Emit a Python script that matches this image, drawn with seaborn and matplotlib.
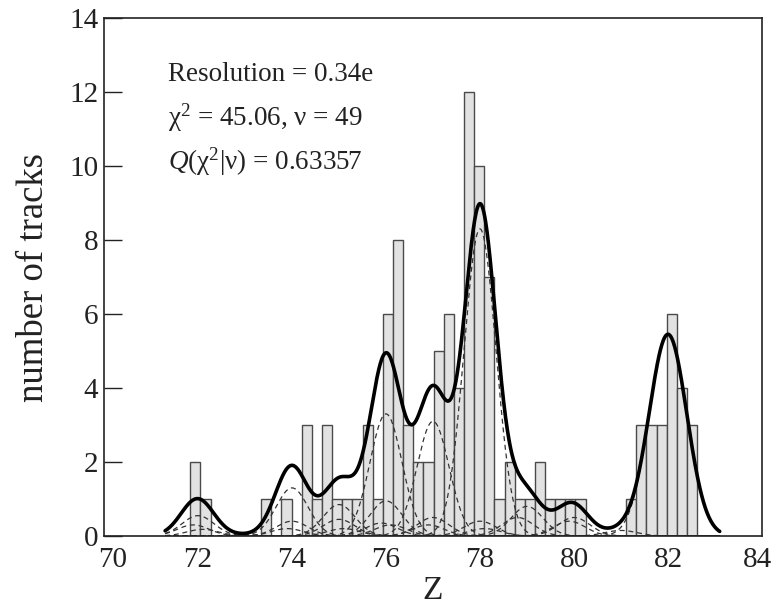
import numpy as np
import pandas as pd
import matplotlib
matplotlib.use("Agg")
import matplotlib.pyplot as plt
import matplotlib.transforms as mtransforms
import seaborn as sns

# ---- histogram data (50 bins) ----
bin_start = 71.835
bin_width = 0.2157
counts = [2, 1, 0, 0, 0, 0, 0, 1, 0, 1,
          0, 3, 1, 3, 1, 1, 1, 3, 1, 6,
          8, 3, 2, 2, 5, 6, 4, 12, 10, 7,
          1, 2, 1, 1, 2, 1, 1, 1, 1, 0,
          0, 0, 0, 1, 3, 3, 3, 6, 4, 3]

# ---- fitted Gaussian components (centre, peak height, sigma) ----
comp_center = [72.0, 71.9, 72.1, 73.0, 74.0, 74.0, 73.9, 75.0, 75.0, 75.1,
               76.0, 76.0, 75.9, 76.1, 77.0, 77.0, 76.9, 78.0, 78.0, 78.1,
               79.0, 78.8, 80.0, 79.9, 81.0, 82.0]
comp_height = [0.55, 0.30, 0.18, 0.03, 1.30, 0.40, 0.20, 0.85, 0.45, 0.20,
               3.30, 0.95, 0.35, 0.30, 3.10, 0.50, 0.30, 8.30, 0.40, 0.20,
               0.80, 0.50, 0.50, 0.40, 0.15, 5.45]
comp_sigma = [0.34] * 25 + [0.40]
curve_range = (71.3, 83.1)

annot = ["Resolution = 0.34e",
         "\u03c7$^{2}$ = 45.06, \u03bd = 49",
         "$Q$(\u03c7$^{2}$|\u03bd) = 0.63357"]

sns.set_theme(style="white")
plt.rcParams["font.family"] = ["Liberation Serif", "DejaVu Serif"]
plt.rcParams["mathtext.fontset"] = "custom"
plt.rcParams["mathtext.rm"] = "Liberation Serif"
plt.rcParams["mathtext.it"] = "Liberation Serif:italic"

fig = plt.figure(figsize=(7.77, 6.09), dpi=100)
ax = fig.add_axes([104 / 777, 1 - 536 / 609, 658 / 777, 518 / 609])

n = len(counts)
edges = [bin_start + bin_width * i for i in range(n + 1)]
centers = [(edges[i] + edges[i + 1]) / 2 for i in range(n)]
hist_df = pd.DataFrame({"Z": centers, "w": counts})
sns.histplot(data=hist_df, x="Z", weights="w", bins=edges, ax=ax,
             color="#e2e2e2", edgecolor="#4a4a4a", linewidth=1.0, alpha=1.0)

x = np.linspace(curve_range[0], curve_range[1], 1200)
total = np.zeros_like(x)
for c, h, s in zip(comp_center, comp_height, comp_sigma):
    g = h * np.exp(-0.5 * ((x - c) / s) ** 2)
    total += g
    ax.plot(x, g, color="#333333", lw=0.9, ls=(0, (4, 3)))
sns.lineplot(x=x, y=total, ax=ax, color="black", lw=2.6, estimator=None)

ax.set_xlim(70, 84)
ax.set_ylim(0, 14)
ax.set_xticks(np.arange(70, 85, 2))
ax.set_yticks(np.arange(0, 15, 2))
ax.tick_params(axis="x", length=0, labelsize=21, pad=8, colors="#222222")
ax.tick_params(axis="y", direction="in", length=13, width=1, labelsize=21,
               pad=4, left=True, colors="#222222")
for sp in ax.spines.values():
    sp.set_color("#222222")
    sp.set_linewidth(1.2)
ax.set_xlabel("Z", fontsize=24, color="#222222", labelpad=2)
ax.set_ylabel("number of tracks", fontsize=26.5, color="#222222", labelpad=13)

# nudge the end x labels inward as in the reference
xl = ax.get_xticklabels()
xl[0].set_transform(xl[0].get_transform() +
                    mtransforms.ScaledTranslation(9 / 100, 0, fig.dpi_scale_trans))
xl[-1].set_transform(xl[-1].get_transform() +
                     mtransforms.ScaledTranslation(-4 / 100, 0, fig.dpi_scale_trans))

ys = [0.878, 0.792, 0.708]
for t, yy in zip(annot, ys):
    ax.text(0.097, yy, t, transform=ax.transAxes, fontsize=19.5,
            color="#222222", va="baseline", ha="left")

fig.savefig("out.png", dpi=100)
